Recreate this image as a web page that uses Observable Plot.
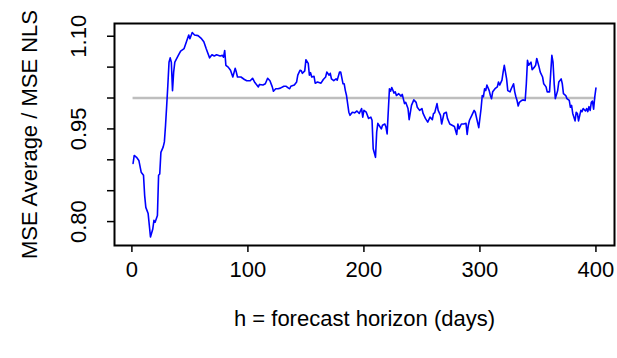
<!DOCTYPE html>
<html>
<head>
<meta charset="utf-8">
<script src="https://cdn.jsdelivr.net/npm/d3@7"></script>
<script src="https://cdn.jsdelivr.net/npm/@observablehq/plot@0.6"></script>
<style>
  html, body { margin: 0; padding: 0; background: #fff; }
  #chart svg { display: block; }
</style>
</head>
<body>
<div id="chart"></div>
<script>
// Forecast horizon (days)
const horizon = [
  1,2,4,6,8,10,11,12,14,15,16,18,19,20,22,23,24,25,27,28,29,30,31,32,33,34,35,36,37,40,
  42,45,47,49,50,52,54,57,60,62,64,65,67,69,71,73,76,78,79,80,81,83,85,87,89,90,91,94,97,99,
  102,104,106,109,110,113,115,117,119,121,122,124,126,128,131,133,135,136,137,140,142,143,145,146,147,149,150,152,153,154,
  155,157,158,160,163,165,167,168,170,171,172,174,176,177,179,180,182,183,184,185,187,188,190,192,194,196,198,199,200,202,
  204,206,207,208,210,211,212,213,215,216,218,219,220,222,223,224,226,227,228,230,232,233,235,236,238,239,241,243,245,246,
  248,250,251,253,255,257,259,260,261,263,264,266,267,269,271,272,274,276,278,280,281,282,284,286,288,289,290,291,293,295,
  296,299,301,302,303,304,305,306,308,309,310,311,313,315,316,317,319,320,321,323,324,326,327,329,330,331,332,333,334,336,
  337,339,340,341,342,344,345,347,348,349,351,352,354,355,357,358,360,361,362,363,364,365,367,368,370,371,372,374,375,377,
  378,379,380,382,383,384,385,387,388,389,391,392,393,394,395,396,397,398,399,400
];

// Ratio of MSE (average) to MSE (NLS)
const ratio = [
  0.894,0.907,0.904,0.899,0.880,0.875,0.842,0.823,0.813,0.794,0.775,0.788,0.802,0.799,0.810,0.875,0.877,0.912,0.921,0.929,0.956,0.988,1.021,1.058,1.065,1.058,1.012,1.042,1.058,1.069,
  1.076,1.080,1.091,1.102,1.096,1.106,1.102,1.101,1.096,1.091,1.080,1.075,1.065,1.070,1.068,1.070,1.068,1.069,1.066,1.077,1.053,1.050,1.045,1.034,1.048,1.042,1.034,1.034,1.030,1.028,
  1.028,1.032,1.025,1.018,1.022,1.021,1.023,1.032,1.028,1.018,1.011,1.015,1.015,1.016,1.019,1.019,1.016,1.015,1.019,1.021,1.026,1.037,1.045,1.044,1.040,1.044,1.062,1.056,1.037,1.041,
  1.034,1.035,1.024,1.026,1.024,1.030,1.034,1.042,1.037,1.040,1.031,1.028,1.031,1.029,1.042,1.042,1.023,1.023,1.012,1.004,0.977,0.972,0.977,0.976,0.979,0.975,0.983,0.969,0.980,0.977,
  0.967,0.969,0.964,0.918,0.904,0.945,0.959,0.956,0.950,0.956,0.958,0.953,0.942,1.015,1.011,1.017,1.008,1.010,1.004,1.007,1.003,1.006,0.991,0.993,0.983,0.965,0.988,0.997,0.993,0.985,
  0.980,0.983,0.975,0.967,0.961,0.969,0.965,0.975,0.976,0.991,0.980,0.972,0.958,0.975,0.977,0.967,0.958,0.956,0.954,0.941,0.958,0.950,0.958,0.958,0.959,0.941,0.956,0.964,0.972,0.980,
  0.977,0.952,0.983,1.004,1.002,1.015,1.012,1.021,1.012,1.004,0.999,1.010,1.015,1.018,1.026,1.021,1.029,1.042,1.053,1.031,1.012,1.010,1.015,1.023,1.010,1.002,0.996,0.987,0.993,0.996,
  0.997,0.996,1.023,1.061,1.053,1.058,1.046,1.050,1.053,1.064,1.050,1.042,1.034,1.023,1.018,1.010,1.010,1.040,1.069,1.058,1.023,0.999,1.012,1.026,1.031,1.023,1.007,1.004,0.999,0.996,
  0.985,0.988,0.975,0.963,0.977,0.975,0.963,0.980,0.978,0.983,0.979,0.983,0.978,0.986,0.980,0.993,0.995,0.982,1.002,1.016
];

const xTicks = [0, 100, 200, 300, 400];
const yTicks = [0.80, 0.85, 0.90, 0.95, 1.00, 1.05, 1.10];
const yLabelValues = [0.80, 0.95, 1.10];
const yLabelText = ["0.80", "0.95", "1.10"];
const reference = 1.0;
const xTitle = "h = forecast horizon (days)";
const yTitle = "MSE Average / MSE NLS";

const series = horizon.map((h, i) => ({h, r: ratio[i]}));
const yLabels = yLabelValues.map((v, i) => ({v, t: yLabelText[i]}));

const fontSize = 22;

const chart = Plot.plot({
  width: 617,
  height: 358,
  marginLeft: 114,
  marginRight: 3,
  marginTop: 23,
  marginBottom: 113,
  style: {fontFamily: "Liberation Sans, Arial, sans-serif", color: "black", background: "white"},
  x: {domain: [-15, 416]},
  y: {domain: [0.7613, 1.1206]},
  marks: [
    Plot.ruleY([reference], {x1: 1, x2: 400, stroke: "#bebebe", strokeWidth: 2.5}),
    Plot.line(series, {x: "h", y: "r", stroke: "#0000ff", strokeWidth: 1.6}),
    Plot.frame({stroke: "black", strokeWidth: 2}),
    Plot.axisX({ticks: xTicks, tickSize: 7, tickPadding: 9, fontSize, label: null, tickFormat: d => String(d), strokeWidth: 1.5}),
    Plot.axisY({ticks: yTicks, tickSize: 7, tickFormat: () => "", label: null, strokeWidth: 1.5}),
    Plot.text(yLabels, {y: "v", text: "t", frameAnchor: "left", dx: -36, rotate: -90, fontSize, textAnchor: "middle", lineAnchor: "middle", fill: "black"}),
    Plot.text([xTitle], {frameAnchor: "bottom", dy: 73, fontSize, textAnchor: "middle", lineAnchor: "middle", fill: "black"}),
    Plot.text([yTitle], {frameAnchor: "left", dx: -85, rotate: -90, fontSize, textAnchor: "middle", lineAnchor: "middle", fill: "black"})
  ]
});

document.getElementById("chart").appendChild(chart);
</script>
</body>
</html>
